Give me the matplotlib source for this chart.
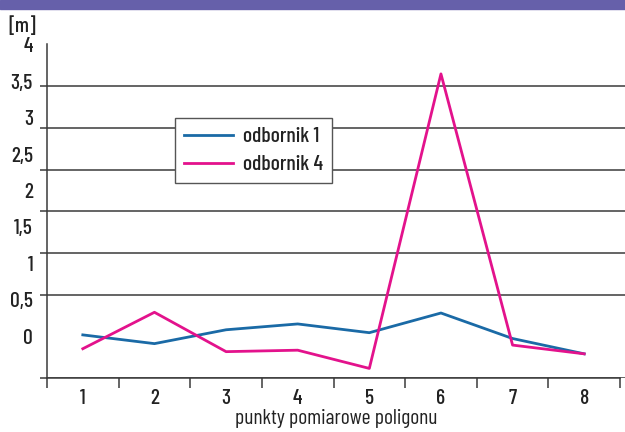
import numpy as np
import matplotlib.pyplot as plt
from matplotlib.patches import Rectangle

# values
points = [1, 2, 3, 4, 5, 6, 7, 8]
odbornik_1 = [0.02, -0.10, 0.09, 0.17, 0.05, 0.32, -0.03, -0.24]
odbornik_4 = [-0.17, 0.33, -0.21, -0.19, -0.44, 3.60, -0.12, -0.24]
y_labels = ['4', '3,5', '3', '2,5', '2', '1,5', '1', '0,5', '0']
y_label_vals = [4, 3.5, 3, 2.5, 2, 1.5, 1, 0.5, 0]

plt.rcParams['font.family'] = ['Barlow Condensed', 'DejaVu Sans']
plt.rcParams['font.weight'] = 500
txt = '#222222'
fs = 15.5

fig = plt.figure(figsize=(6.25, 4.32), dpi=100)
fig.patches.append(Rectangle((0, 1 - 9 / 432), 1, 9 / 432, transform=fig.transFigure,
                             color='#6660aa', zorder=0))

ax = fig.add_axes([47 / 625, 1 - 378 / 432, 578 / 625, (378 - 44) / 432])
bottom = -4 / 7
ax.set_xlim(0.5, 8.5 + 8 * 5 / 575)
ax.set_ylim(bottom, 4.01)

# horizontal lines (grid) at 4/7 spacing, as in the reference
grid = np.linspace(bottom, 4, 9)
ax.set_yticks(grid, minor=True)
ax.grid(True, which='minor', axis='y', color='#3a3a3a', lw=1.1)
ax.tick_params(axis='y', which='minor', length=5, width=1.1, color='#3a3a3a')
ax.set_yticks(y_label_vals)
ax.set_yticklabels(y_labels)
ax.tick_params(axis='y', which='major', length=0, pad=10, labelsize=fs, labelcolor=txt)

ax.set_xticks(points)
ax.set_xticks(np.arange(0.5, 9, 1), minor=True)
ax.tick_params(axis='x', which='major', length=0, pad=8, labelsize=fs, labelcolor=txt)
ax.tick_params(axis='x', which='minor', length=7, width=1.1, color='#3a3a3a')

for s in ['top', 'right']:
    ax.spines[s].set_visible(False)
for s in ['left', 'bottom']:
    ax.spines[s].set_color('#3a3a3a')
    ax.spines[s].set_linewidth(1.1)
ax.spines['bottom'].set_bounds(0.5, 8.5)

ax.plot(points, odbornik_1, color='#1a6aa6', lw=2, label='odbornik 1', zorder=3)
ax.plot(points, odbornik_4, color='#e3128c', lw=2, label='odbornik 4', zorder=3)

ax.set_xlabel('punkty pomiarowe poligonu', fontsize=fs, color=txt, labelpad=1)
fig.text(8 / 625, 1 - 26 / 432, '[m]', fontsize=fs, color=txt, va='center', ha='left')

leg = ax.legend(loc='upper left', bbox_to_anchor=(0.222, 0.777),
                fontsize=fs, frameon=True, fancybox=False, framealpha=1,
                handlelength=2.3, handletextpad=0.45, borderpad=0.4, labelspacing=0.42,
                borderaxespad=0)
leg.get_frame().set_edgecolor('#555555')
leg.get_frame().set_linewidth(1.0)
for t in leg.get_texts():
    t.set_color(txt)

fig.savefig('out.png', dpi=100)
